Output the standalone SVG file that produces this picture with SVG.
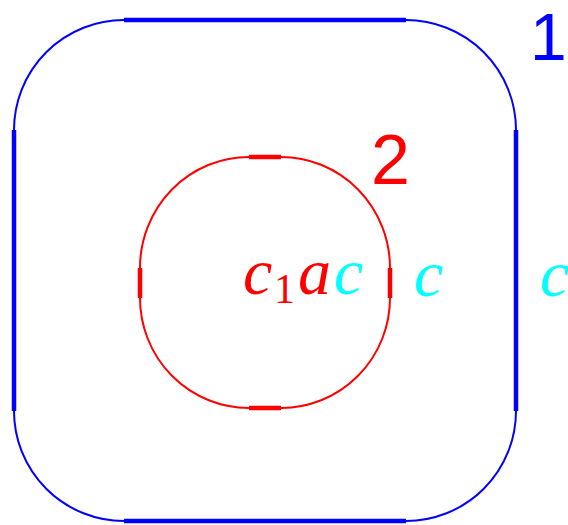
<svg xmlns="http://www.w3.org/2000/svg" width="568" height="525" viewBox="0 0 568 525">
<style>
.thin{fill:none;stroke-width:2}
.thick{fill:none;stroke-width:4.5}
.b{stroke:#0000ff}
.r{stroke:#ff0000}
.m{font-family:"Liberation Serif",serif;font-style:italic;font-size:66px}
.sub{font-family:"Liberation Serif",serif;font-size:42px}
.lbl{font-family:"Liberation Sans",sans-serif;font-size:70px}
</style>
<rect width="568" height="525" fill="#fff"/>
<g id="node1">
<path class="thin b" d="M124,20 A110,110 0 0 0 14,130 M14,411 A110,110 0 0 0 124,521 M406,521 A110,110 0 0 0 516,411 M516,130 A110,110 0 0 0 406,20"/>
<path class="thick b" d="M124,20 H406 M14,130 V411 M124,521 H406 M516,130 V411"/>
<text class="lbl" x="530" y="60" font-size="66" style="font-size:66px" fill="#0000ff">1</text>
</g>
<g id="node2">
<path class="thin r" d="M249,157 A109,111 0 0 0 140,268 M140,298 A109,110 0 0 0 249,408 M281,408 A109,110 0 0 0 390,298 M390,268 A109,111 0 0 0 281,157"/>
<path class="thick r" d="M249,157 H281 M140,268 V298 M249,408 H281 M390,268 V298"/>
<text class="lbl" x="371" y="184" fill="#ff0000">2</text>
</g>
<g id="labels">
<text class="m" x="243" y="294" fill="#ff0000">c</text>
<text class="sub" x="274" y="303" fill="#ff0000">1</text>
<text class="m" x="298" y="294" fill="#ff0000">a</text>
<text class="m" x="334" y="294" fill="#00ffff">c</text>
<text class="m" x="414" y="296" fill="#00ffff">c</text>
<text class="m" x="540" y="296" fill="#00ffff">c</text>
</g>
<g id="connectors"></g>
</svg>
